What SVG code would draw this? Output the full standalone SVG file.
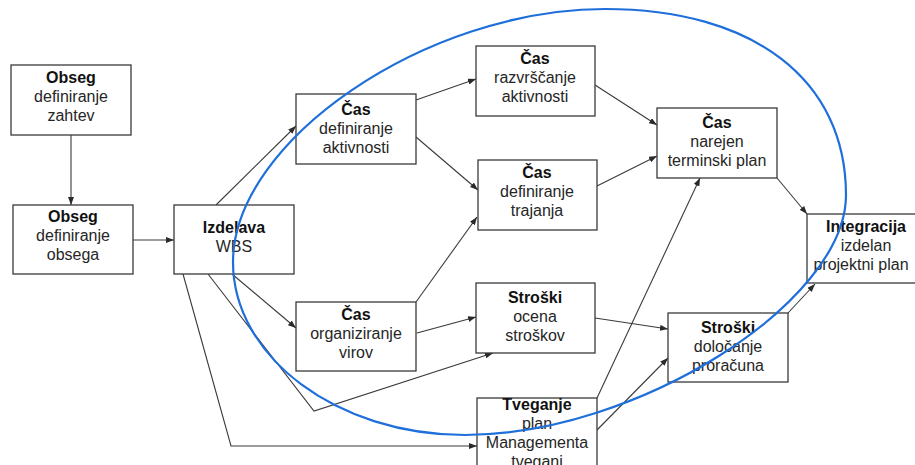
<svg xmlns="http://www.w3.org/2000/svg" width="915" height="465" viewBox="0 0 915 465">
  <style>
    .box { fill: #ffffff; stroke: #3a3a3a; stroke-width: 1.3; }
    .t { font-family: "Liberation Sans", Arial, sans-serif; font-size: 16px; fill: #262626; text-anchor: middle; }
    .b { font-weight: bold; fill: #111111; }
    .edge { fill: none; stroke: #3a3a3a; stroke-width: 1.1; marker-end: url(#arrow); }
    .scope { fill: none; stroke: #1f6fdb; stroke-width: 2.2; }
  </style>
  <defs>
    <marker id="arrow" markerWidth="8" markerHeight="6" refX="8" refY="3" orient="auto" markerUnits="userSpaceOnUse">
      <path d="M0,0 L8,3 L0,6 z" fill="#2a2a2a"/>
    </marker>
  </defs>
  <rect width="915" height="465" fill="#ffffff"/>

  <!-- connectors -->
  <g id="connectors">
    <path class="edge" d="M71,135 L71,205"/>
    <path class="edge" d="M133,240 L174,240"/>
    <path class="edge" d="M216,205 L296,126"/>
    <path class="edge" d="M232,274 L296,328"/>
    <path class="edge" d="M208,274 L314,411 L493,353"/>
    <path class="edge" d="M183,274 L231,446 L477,446"/>
    <path class="edge" d="M416,302 L477,217"/>
    <path class="edge" d="M417,333 L476,317"/>
    <path class="edge" d="M416,100 L476,79"/>
    <path class="edge" d="M416,137 L478,190"/>
    <path class="edge" d="M595,85 L657,125"/>
    <path class="edge" d="M597,186 L657,156"/>
    <path class="edge" d="M777,178 L807,214"/>
    <path class="edge" d="M788,313 L815,284"/>
    <path class="edge" d="M595,318 L668,329"/>
    <path class="edge" d="M597,398 L700,178"/>
    <path class="edge" d="M597,430 L668,358"/>
  </g>

  <!-- nodes -->
  <g id="obseg-zahtev">
    <rect class="box" x="11" y="65" width="120" height="70"/>
    <text class="t b" x="71" y="83">Obseg</text>
    <text class="t" x="71" y="102">definiranje</text>
    <text class="t" x="71" y="121">zahtev</text>
  </g>
  <g id="obseg-obsega">
    <rect class="box" x="13" y="205" width="120" height="69"/>
    <text class="t b" x="73" y="222">Obseg</text>
    <text class="t" x="73" y="241">definiranje</text>
    <text class="t" x="73" y="260">obsega</text>
  </g>
  <g id="izdelava-wbs">
    <rect class="box" x="174" y="205" width="120" height="69"/>
    <text class="t b" x="234" y="233">Izdelava</text>
    <text class="t" x="234" y="252">WBS</text>
  </g>
  <g id="cas-aktivnosti">
    <rect class="box" x="296" y="94" width="120" height="70"/>
    <text class="t b" x="356" y="115">Čas</text>
    <text class="t" x="356" y="134">definiranje</text>
    <text class="t" x="356" y="153">aktivnosti</text>
  </g>
  <g id="cas-razvrscanje">
    <rect class="box" x="476" y="46" width="119" height="70"/>
    <text class="t b" x="535" y="64">Čas</text>
    <text class="t" x="535" y="83">razvrščanje</text>
    <text class="t" x="535" y="102">aktivnosti</text>
  </g>
  <g id="cas-trajanja">
    <rect class="box" x="478" y="160" width="119" height="70"/>
    <text class="t b" x="537" y="178">Čas</text>
    <text class="t" x="537" y="197">definiranje</text>
    <text class="t" x="537" y="216">trajanja</text>
  </g>
  <g id="cas-terminski">
    <rect class="box" x="657" y="108" width="120" height="70"/>
    <text class="t b" x="717" y="128">Čas</text>
    <text class="t" x="717" y="147">narejen</text>
    <text class="t" x="717" y="166">terminski plan</text>
  </g>
  <g id="integracija">
    <rect class="box" x="807" y="214" width="120" height="69"/>
    <text class="t b" x="866" y="232">Integracija</text>
    <text class="t" x="866" y="251">izdelan</text>
    <text class="t" x="861" y="270">projektni plan</text>
  </g>
  <g id="cas-virov">
    <rect class="box" x="296" y="302" width="120" height="69"/>
    <text class="t b" x="356" y="320">Čas</text>
    <text class="t" x="356" y="339">organiziranje</text>
    <text class="t" x="356" y="358">virov</text>
  </g>
  <g id="stroski-ocena">
    <rect class="box" x="476" y="283" width="119" height="70"/>
    <text class="t b" x="535" y="303">Stroški</text>
    <text class="t" x="535" y="322">ocena</text>
    <text class="t" x="535" y="341">stroškov</text>
  </g>
  <g id="stroski-proracun">
    <rect class="box" x="668" y="313" width="120" height="69"/>
    <text class="t b" x="728" y="333">Stroški</text>
    <text class="t" x="728" y="352">določanje</text>
    <text class="t" x="728" y="371">proračuna</text>
  </g>
  <g id="tveganje">
    <rect class="box" x="477" y="398" width="120" height="72"/>
    <text class="t b" x="537" y="410">Tveganje</text>
    <text class="t" x="537" y="429">plan</text>
    <text class="t" x="537" y="448">Managementa</text>
    <text class="t" x="537" y="467">tveganj</text>
  </g>

  <!-- planning scope outline -->
  <path class="scope" d="M605,9 C754,9 846,80 846,195 C846,303 636,435 465,435 C337,435 233,357 233,262 C233,141 426,9 605,9 Z"/>
</svg>
